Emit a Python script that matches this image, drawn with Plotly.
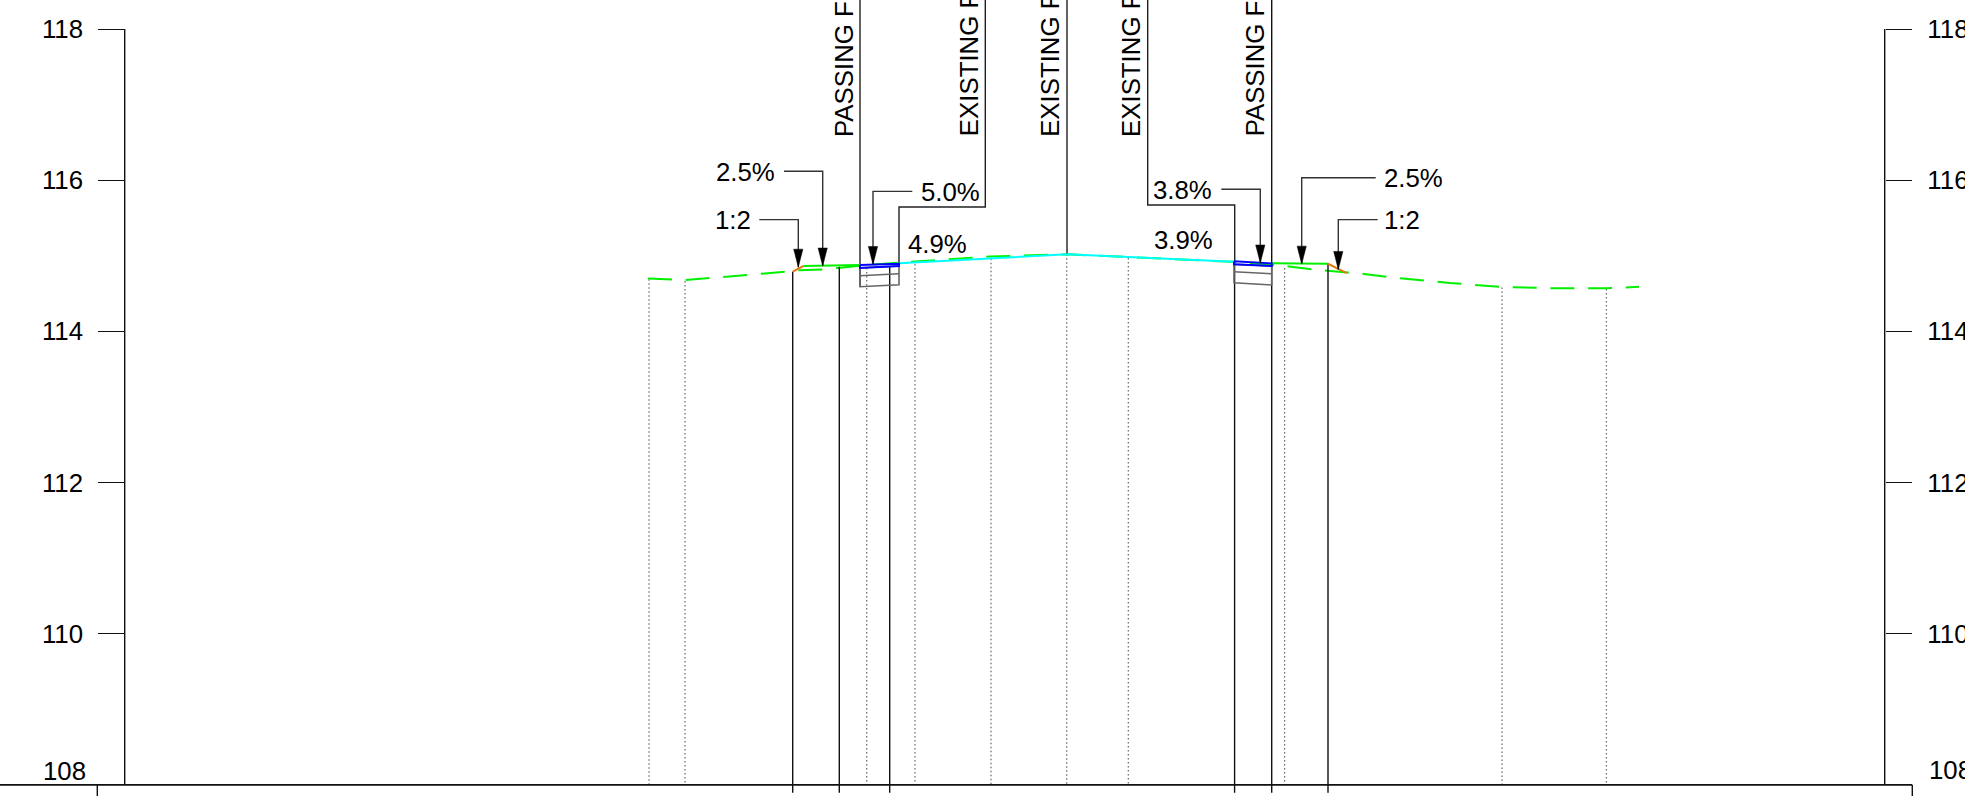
import plotly.graph_objects as go

FONT = "Liberation Sans"
TOP = 118.384      # leader lines run off the top of the sheet
SHEET_BOTTOM = 107.854
TICK_BOTTOM = 107.898
BASE = 108.0

y_ticks = [108, 110, 112, 114, 116, 118]
y_tick_text = ["", "110", "112", "114", "116", "118"]
axis_frame_x = [-94.23, 81.77]
axis_frame_z = [108, 118]

ground_x = [-41.9, -38.2, -34.4, -30.6, -28.2, -26.8, -24.4, -22.9, -20.7, -16.8, -11.7, -7.7, 0.0, 6.1, 16.7,
            20.6, 22.2, 24.6, 26.0, 28.0, 29.7, 32.1, 38.3, 43.4, 48.7, 53.9, 57.2]
ground_z = [114.70, 114.68, 114.72, 114.76, 114.79, 114.81, 114.82, 114.84, 114.87, 114.91, 114.96, 114.99, 115.02,
            114.98, 114.92, 114.88, 114.86, 114.82, 114.80, 114.78, 114.76, 114.72, 114.64, 114.59, 114.57, 114.57, 114.59]

road_x = [-16.8, -7.7, 0.0, 6.1, 16.7]
road_z = [114.90, 114.97, 115.02, 114.985, 114.92]

shoulder_left_x = [-26.37, -20.7]
shoulder_left_z = [114.865, 114.878]
shoulder_right_x = [20.47, 26.1]
shoulder_right_z = [114.90, 114.895]

slope_left_x = [-27.43, -26.37]
slope_left_z = [114.79, 114.865]
slope_right_x = [26.1, 27.97]
slope_right_z = [114.895, 114.772]

passing_left_x = [-20.7, -16.8, -16.8, -20.7, -20.7]
passing_left_z = [114.88, 114.895, 114.865, 114.84, 114.88]
passing_right_x = [16.7, 20.47, 20.47, 16.7, 16.7]
passing_right_z = [114.927, 114.90, 114.865, 114.888, 114.927]

layers_left_x = [-20.7, -16.8, -16.8, -20.7, -20.7, None, -20.7, -16.8]
layers_left_z = [114.84, 114.865, 114.618, 114.591, 114.84, None, 114.737, 114.763]
layers_right_x = [16.7, 20.47, 20.47, 16.7, 16.7, None, 16.7, 20.47]
layers_right_z = [114.888, 114.865, 114.614, 114.644, 114.888, None, 114.79, 114.763]

solid_x = [-27.43, -22.77, -17.73, 16.76, 20.47, 26.1]
solid_top = [114.79, 114.856, 114.865, 114.92, TOP, 114.895]

dotted_x = [-41.8, -38.2, -20.03, -15.2, -7.6, -0.03, 6.13, 21.76, 43.5, 53.94]
dotted_top = [114.69, 114.667, 114.84, 114.89, 114.96, 115.02, 114.97, 114.84, 114.58, 114.56]

sheet_ticks_x = [-96.97, 84.53]
baseline_x = [-106.7, 84.53]

callout_x = [[-20.7, -20.7], [0.0, 0.0], [-16.8, -16.8, -8.17, -8.17], [8.07, 8.07, 16.77, 16.77]]
callout_z = [[TOP, 114.591], [TOP, 115.02], [114.895, 115.646, 115.646, TOP], [TOP, 115.672, 115.672, 114.92]]

leader_start_x = [-28.3, -30.77, -15.47, 15.43, 30.87, 31.07]
leader_elbow_x = [-24.43, -26.87, -19.4, 19.33, 23.47, 27.13]
leader_z = [116.118, 115.478, 115.853, 115.88, 116.033, 115.478]
leader_tip_z = [114.865, 114.85, 114.885, 114.905, 114.89, 114.82]
ARROW_HALF_WIDTH = 0.46
ARROW_LENGTH = 0.238

slope_labels = ["2.5%", "1:2", "5.0%", "4.9%", "3.9%", "3.8%", "2.5%", "1:2"]
slope_label_x = [-32.2, -33.37, -11.7, -12.97, 11.6, 11.58, 34.65, 33.5]
slope_label_z = [116.11, 115.47, 115.85, 115.15, 115.21, 115.87, 116.03, 115.47]

vertical_labels = ["PASSING F", "EXISTING F", "EXISTING F", "EXISTING F", "PASSING F"]
vertical_label_x = [-22.37, -9.8, -1.73, 6.38, 18.77]
VERTICAL_LABEL_Z = 116.55

BLACK = "#111111"
GRAY = "#666666"
GREEN = "#00f000"
CYAN = "#00ffff"
BLUE = "#0000ff"
ORANGE = "#e07810"
TEXT_SIZE = 25.8

fig = go.Figure()


def line(x, y, color=BLACK, width=1.4, dash=None, yaxis="y"):
    fig.add_trace(go.Scatter(x=x, y=y, mode="lines", yaxis=yaxis, cliponaxis=False, hoverinfo="skip",
                             showlegend=False, line=dict(color=color, width=width, dash=dash)))


def stems(xs, tops, bottom):
    out_x, out_y = [], []
    for x, t in zip(xs, tops):
        out_x += [x, x, None]
        out_y += [t, bottom, None]
    return out_x, out_y


line([axis_frame_x[0]] * 2, axis_frame_z)
line([axis_frame_x[1]] * 2, axis_frame_z, yaxis="y2")

dx, dy = stems(dotted_x, dotted_top, BASE)
line(dx, dy, color="#666666", width=1.2, dash="1.5px,2.5px")
line(ground_x, ground_z, color=GREEN, width=2, dash="24px,13.7px")

sx, sy = stems(solid_x, solid_top, TICK_BOTTOM)
line(sx, sy)
tx, ty = stems(sheet_ticks_x, [BASE, BASE], SHEET_BOTTOM)
line(tx, ty)
line(baseline_x, [BASE, BASE], width=1.8)
for cx, cz in zip(callout_x, callout_z):
    line(cx, cz, color="#222222")

line(layers_left_x, layers_left_z, color=GRAY, width=1.6)
line(layers_right_x, layers_right_z, color=GRAY, width=1.6)

line(shoulder_left_x, shoulder_left_z, color=GREEN, width=2)
line(shoulder_right_x, shoulder_right_z, color=GREEN, width=2)
line(road_x, road_z, color=CYAN, width=2)
line(slope_left_x, slope_left_z, color=ORANGE, width=2)
line(slope_right_x, slope_right_z, color=ORANGE, width=2)
line(passing_left_x, passing_left_z, color=BLUE, width=2)
line(passing_right_x, passing_right_z, color=BLUE, width=2)

for x0, x1, z, tip in zip(leader_start_x, leader_elbow_x, leader_z, leader_tip_z):
    line([x0, x1, x1], [z, z, tip], color="#333333")
    fig.add_trace(go.Scatter(
        x=[x1 - ARROW_HALF_WIDTH, x1 + ARROW_HALF_WIDTH, x1, x1 - ARROW_HALF_WIDTH],
        y=[tip + ARROW_LENGTH, tip + ARROW_LENGTH, tip, tip + ARROW_LENGTH],
        mode="lines", fill="toself", fillcolor="#000000", hoverinfo="skip",
        showlegend=False, line=dict(color="#000000", width=0.5)))

text_font = dict(family=FONT, size=TEXT_SIZE, color="#000000")
annotations = []
for t, x, z in zip(slope_labels, slope_label_x, slope_label_z):
    annotations.append(dict(text=t, x=x, y=z, xref="x", yref="y", xanchor="center", yanchor="middle",
                            showarrow=False, font=text_font))
for t, x in zip(vertical_labels, vertical_label_x):
    annotations.append(dict(text=t, x=x, y=VERTICAL_LABEL_Z, xref="x", yref="y", xanchor="center", yanchor="bottom",
                            textangle=-90, showarrow=False, font=text_font))
annotations.append(dict(text="108", x=-100.3, y=108.19, xref="x", yref="y", xanchor="center", yanchor="middle",
                        showarrow=False, font=text_font))
annotations.append(dict(text="108", x=86.0, y=108.2, xref="x", yref="y", xanchor="left", yanchor="middle",
                        showarrow=False, font=text_font))

axis_style = dict(range=[SHEET_BOTTOM, TOP], tickmode="array", tickvals=y_ticks, ticktext=y_tick_text, showgrid=False,
                  zeroline=False, showline=False, ticks="outside", ticklen=26.5, tickwidth=1.4, tickcolor=BLACK,
                  anchor="free", tickfont=text_font)

# The drawing sheet runs past the right edge of the window, so the right-hand labels are cut there.
fig.update_layout(
    width=2025, height=796, autosize=False,
    margin=dict(l=0, r=0, t=0, b=0, pad=0),
    paper_bgcolor="white", plot_bgcolor="white", showlegend=False,
    xaxis=dict(range=[-106.7, 95.8], visible=False, showgrid=False, zeroline=False),
    yaxis=dict(side="left", position=124.7 / 2025, ticklabelstandoff=10, **axis_style),
    yaxis2=dict(side="right", overlaying="y", position=1884.7 / 2025, ticklabelstandoff=10, **axis_style),
    annotations=annotations,
)

fig.write_html("out.html", config={"displayModeBar": False},
               post_script="document.body.style.margin='0';document.body.style.overflow='hidden';")
